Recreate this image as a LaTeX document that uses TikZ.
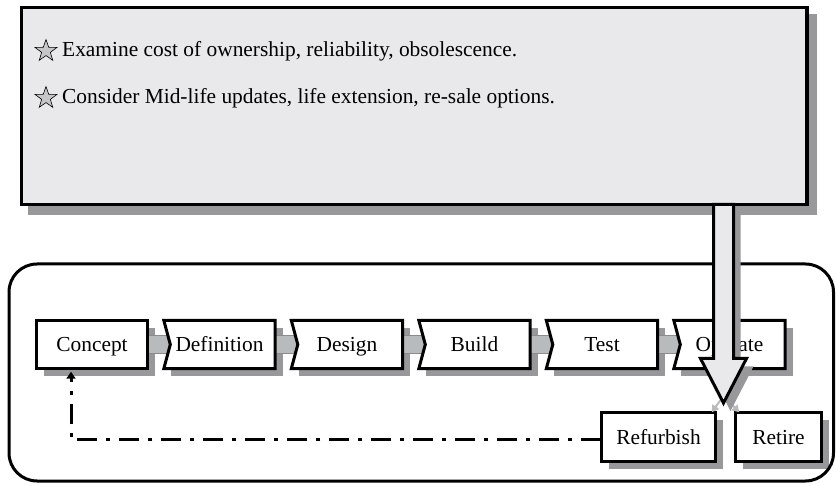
\documentclass[tikz,border=0pt]{standalone}
\usepackage{fontspec}
\setmainfont{Liberation Serif}
\usetikzlibrary{arrows.meta,shapes.geometric,calc}
\definecolor{panelgray}{HTML}{E9E9EB}
\definecolor{shadowgray}{HTML}{98989A}
\definecolor{conngray}{HTML}{B9BABC}
\pgfdeclarelayer{bg}
\pgfsetlayers{bg,main}
\tikzset{
  lbl/.style={font=\fontsize{21.4}{25}\selectfont, inner sep=0pt},
  pbox/.style={lbl, minimum width=111pt, minimum height=48pt, text height=14pt, text depth=0pt, anchor=center},
  boxline/.style={draw=black, line width=3pt, fill=white, line join=miter},
  shadowfill/.style={fill=shadowgray},
  connfill/.style={fill=conngray, draw=conngray!75!black, line width=0.5pt},
  feedback/.style={line width=3pt, dash pattern=on 20pt off 9pt on 4pt off 9pt, -{Triangle[length=7pt,width=9pt]}},
  starmark/.style={star, star points=5, star point ratio=2.5, minimum size=23pt, inner sep=0pt, draw=black, line width=0.6pt, fill=panelgray!85!black},
}
\begin{document}
\begin{tikzpicture}[x=1pt,y=-1pt]
\useasboundingbox (0,0) rectangle (836,486);
% top panel with shadow
\fill[shadowfill] (28,14) rectangle (817,215);
\node[draw, line width=3.5pt, fill=panelgray, minimum width=785.7pt, minimum height=196.8pt, inner sep=0pt] (panel) at (414.15,106.1) {};
\node[starmark] (s1) at (46,51) {};
\node[lbl, anchor=base west] (t1) at (62,57) {Examine cost of ownership, reliability, obsolescence.};
\node[starmark] (s2) at (46,98) {};
\node[lbl, anchor=base west] (t2) at (62,104) {Consider Mid-life updates, life extension, re-sale options.};
% container
\node[draw, line width=3pt, rounded corners=28pt, minimum width=824.5pt, minimum height=217pt, inner sep=0pt] (frame) at (421.25,372.5) {};
% process boxes
\foreach \n/\t [count=\i from 0] in {concept/Concept, definition/Definition, design/Design, build/Build, test/Test, operate/Operate}
  \node[pbox] (\n) at (92+127.5*\i,344.5) {\t};
\node[pbox, minimum width=114pt, minimum height=49pt] (refurbish) at (658.5,437) {Refurbish};
\node[pbox, minimum width=86pt, minimum height=49pt] (retire) at (778.5,437) {Retire};
\begin{pgfonlayer}{bg}
  \foreach \n in {concept,definition,design,build,test,operate,refurbish,retire}
    \fill[shadowfill] ($(\n.north west)+(7.5,7.5)$) rectangle ($(\n.south east)+(7.5,7.5)$);
  \foreach \a/\b in {concept/definition, definition/design, design/build, build/test, test/operate}
    \filldraw[connfill] ($(\a.east)+(0,-9)$) -- ($(\b.west)+(6.5,-9)$) -- ($(\b.west)+(6.5,9)$) -- ($(\a.east)+(0,9)$) -- cycle;
  \filldraw[boxline] (concept.north west) rectangle (concept.south east);
  \foreach \n in {definition,design,build,test,operate}
    \filldraw[boxline] (\n.north west) -- (\n.north east) -- (\n.south east) -- (\n.south west) -- ($(\n.west)+(6.5,0)$) -- cycle;
  \filldraw[boxline] (refurbish.north west) rectangle (refurbish.south east);
  \filldraw[boxline] (retire.north west) rectangle (retire.south east);
\end{pgfonlayer}
% feedback loop
\draw[feedback] ($(refurbish.west)+(0,3)$) -| ($(concept.south)+(-21,3)$);
% small split arrows
\coordinate (split) at (723.5,396);
\draw[conngray, line width=2pt, -{Triangle[length=7pt,width=8pt]}] (split) -- ($(refurbish.north east)+(-4,0)$);
\draw[conngray, line width=2pt, -{Triangle[length=7pt,width=8pt]}] (split) -- ($(retire.north west)+(4,0)$);
% big arrow shadow and arrow
\fill[shadowfill] (720.5,212.5) -- (720.5,366.5) -- (707.5,366.5) -- (730.5,411) -- (753.5,366.5) -- (740.5,366.5) -- (740.5,212.5) -- cycle;
\filldraw[fill=panelgray, draw=black, line width=3pt, line join=miter] (713.5,204.5) -- (713.5,358.5) -- (700.5,358.5) -- (723.5,403) -- (746.5,358.5) -- (733.5,358.5) -- (733.5,204.5) -- cycle;
\end{tikzpicture}
\end{document}
